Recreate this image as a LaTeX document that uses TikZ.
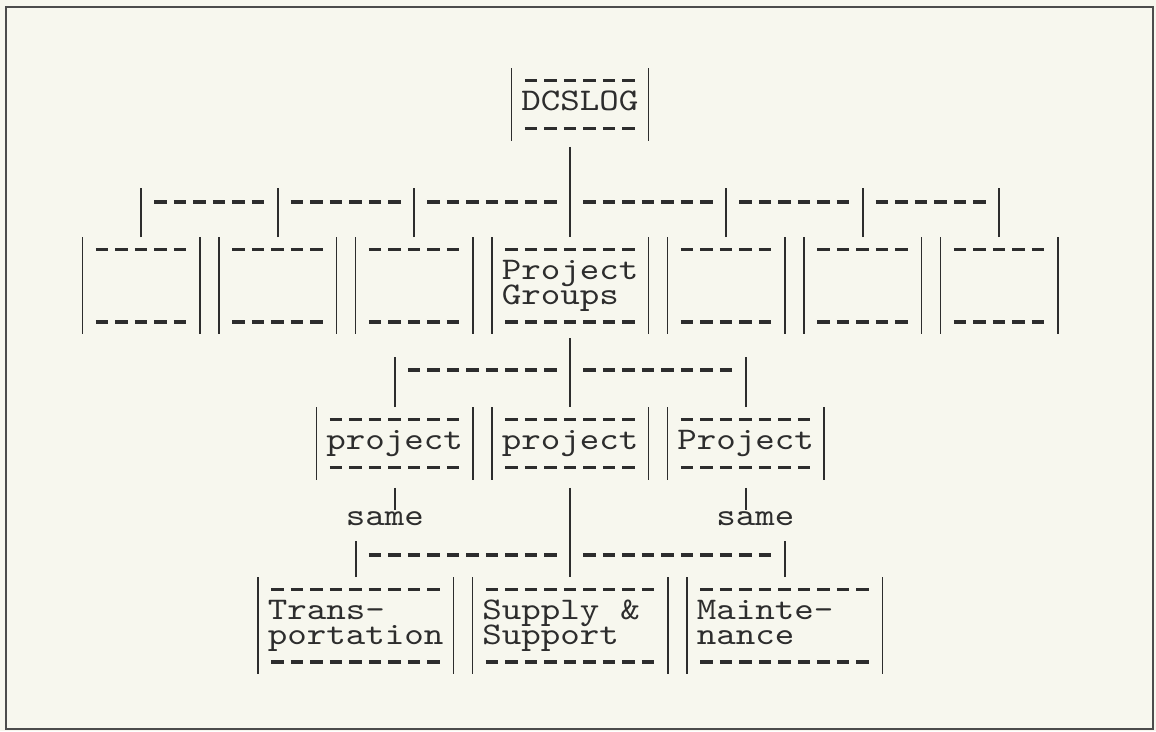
\documentclass[tikz,border=0pt]{standalone}
\usepackage{fontspec}
\newfontfamily\boxtt{lmmono10-regular.otf}[FakeStretch=1.179]
\definecolor{paper}{RGB}{247,247,238}
\definecolor{ink}{RGB}{45,45,45}
\newcommand\boxfont{\boxtt\fontsize{31.5pt}{24.5pt}\selectfont}
\tikzset{
	bar/.style={draw=ink, line width=1.6pt},
	dashline/.style={draw=ink, line width=3.6pt, dash pattern=on 12.5pt off 7pt},
	link/.style={draw=ink, line width=1.6pt},
	tbox/.style={anchor=north west, inner xsep=9.75pt, inner ysep=0pt,
		text width={(#1-1)*19.5pt}, align=left, font=\boxfont, text=ink,
		text height=42.5pt, text depth=30pt,
		execute at begin node={\baselineskip=24.5pt\lineskiplimit=-100pt},
		append after command={
			(\tikzlastnode.north west) edge[bar] (\tikzlastnode.south west)
			(\tikzlastnode.north east) edge[bar] (\tikzlastnode.south east)
			([xshift=13.25pt,yshift=-12.5pt]\tikzlastnode.north west) edge[dashline] ([xshift=-13.25pt,yshift=-12.5pt]\tikzlastnode.north east)
			([xshift=13.25pt,yshift=12.5pt]\tikzlastnode.south west) edge[dashline] ([xshift=-13.25pt,yshift=12.5pt]\tikzlastnode.south east)}},
	twoline/.style={text depth=54.5pt},
	note/.style={anchor=base, inner sep=1pt, font=\boxfont, text=ink},
}
\begin{document}
\begin{tikzpicture}[x=1pt, y=-1pt]
	\useasboundingbox[fill=paper] (0,0) rectangle (1156,731);
	\draw[draw=ink!85, line width=1.5pt] (6,7) rectangle (1153,729);

	% top
	\node[tbox=7] (dcslog) at (511.5,68) {DCSLOG};

	% project groups
	\node[tbox=6, twoline] (g1) at (82.5,237) {};
	\node[tbox=6, twoline] (g2) at (219,237) {};
	\node[tbox=6, twoline] (g3) at (355.5,237) {};
	\node[tbox=8, twoline] (g4) at (492,237) {Project\\Groups};
	\node[tbox=6, twoline] (g5) at (667.5,237) {};
	\node[tbox=6, twoline] (g6) at (804,237) {};
	\node[tbox=6, twoline] (g7) at (940.5,237) {};

	% projects
	\node[tbox=8] (pa) at (316.5,407) {project};
	\node[tbox=8] (pb) at (492,407) {project};
	\node[tbox=8] (pc) at (667.5,407) {Project};
	\node[note] (sameL) at (384.75,525) {same};
	\node[note] (sameR) at (755.25,525) {same};

	% functions
	\node[tbox=10, twoline] (trans) at (258,577) {Trans-\\portation};
	\node[tbox=10, twoline] (supply) at (472.5,577) {Supply~~\&\\Support};
	\node[tbox=10, twoline] (maint) at (687,577) {Mainte-\\nance};

	% bus levels
	\coordinate (bus1) at (570,188);
	\coordinate (dash1) at (570,202);
	\coordinate (bus2) at (570,357);
	\coordinate (dash2) at (570,370);
	\coordinate (bus3) at (570,541);
	\coordinate (dash3) at (570,555);

	% first level
	\draw[link] ([yshift=-6pt]dcslog.south -| g4.north) -- (g4.north);
	\foreach \g in {g1,g2,g3,g5,g6,g7}
		\draw[link] (\g.north) -- (\g.north |- bus1);
	\foreach \a/\b in {g1/g2,g2/g3,g3/g4,g4/g5,g5/g6,g6/g7}
		\draw[dashline] ([xshift=13.25pt]\a.north |- dash1) -- ([xshift=-13.25pt]\b.north |- dash1);

	% second level
	\draw[link] ([yshift=-4pt]g4.south) -- (pb.north);
	\foreach \g in {pa,pc}
		\draw[link] (\g.north) -- (\g.north |- bus2);
	\foreach \a/\b in {pa/pb,pb/pc}
		\draw[dashline] ([xshift=13.25pt]\a.north |- dash2) -- ([xshift=-13.25pt]\b.north |- dash2);

	% third level
	\draw[link] ([yshift=-8pt]pa.south) -- (pa.south |- sameL.north);
	\draw[link] ([yshift=-8pt]pc.south) -- (pc.south |- sameR.north);
	\draw[link] ([yshift=-8pt]pb.south) -- (supply.north);
	\foreach \g in {trans,maint}
		\draw[link] (\g.north) -- (\g.north |- bus3);
	\foreach \a/\b in {trans/supply,supply/maint}
		\draw[dashline] ([xshift=13.25pt]\a.north |- dash3) -- ([xshift=-13.25pt]\b.north |- dash3);
\end{tikzpicture}
\end{document}
